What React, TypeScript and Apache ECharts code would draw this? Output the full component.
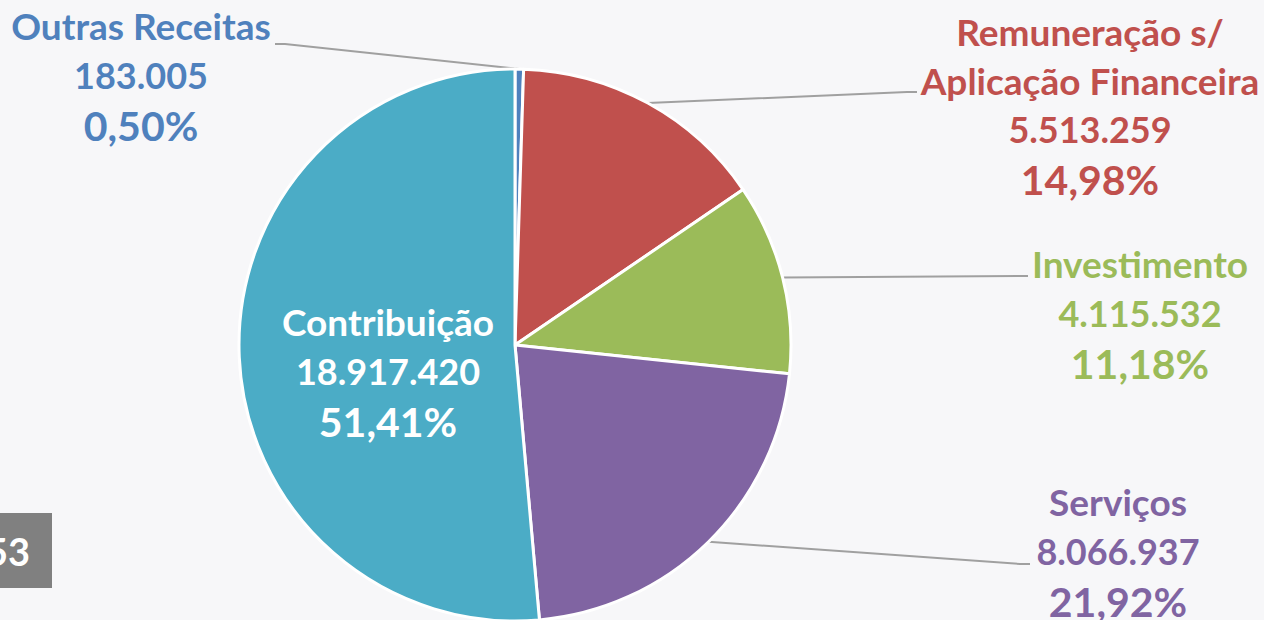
import React, { useEffect, useRef } from 'react';
import * as echarts from 'echarts';

const categories = ['Outras Receitas', 'Remuneração s/\nAplicação Financeira', 'Investimento', 'Serviços', 'Contribuição'];
const values = [183005, 5513259, 4115532, 8066937, 18917420];
const percents = ['0,50%', '14,98%', '11,18%', '21,92%', '51,41%'];
const colors = ['#4F81BD', '#C0504D', '#9BBB59', '#8064A2', '#4BACC6'];
const textColors = ['#4F81BD', '#C0504D', '#9BBB59', '#8064A2', '#FFFFFF'];
const labelCenters: number[][] = [[141, 76], [1090, 106], [1140, 314], [1118, 552], [388, 372]];
const lineEnds: (number[] | null)[] = [[275, 44], [917, 92], [1028, 276], [1030, 564], null];
const pageNumber = '53';

const FONT = 'Lato, "Open Sans", sans-serif';

function fmt(n: number): string {
  return String(n).replace(/\B(?=(\d{3})+(?!\d))/g, '.');
}

export default function App() {
  const ref = useRef<HTMLDivElement>(null);
  useEffect(() => {
    if (!ref.current) return;
    const chart = echarts.init(ref.current, null, { renderer: 'svg' });
    const data = categories.map((name, i) => {
      const inside = i === 4;
      return {
        name,
        value: values[i],
        itemStyle: { color: colors[i] },
        label: {
          position: inside ? 'inside' : 'outside',
          formatter: () =>
            name.split('\n').map((s) => `{n|${s}}`).join('\n') +
            `\n{v|${fmt(values[i])}}\n{p|${percents[i]}}`,
          rich: {
            n: { fontSize: 37, fontWeight: 'bold', color: textColors[i], lineHeight: 49, fontFamily: FONT },
            v: { fontSize: 36, fontWeight: 'bold', color: textColors[i], lineHeight: 49, fontFamily: FONT },
            p: { fontSize: 41, fontWeight: 'bold', color: textColors[i], lineHeight: 52, fontFamily: FONT },
          },
        },
        labelLine: { show: !inside },
      };
    });
    chart.setOption({
      animation: false,
      backgroundColor: '#F7F7F9',
      graphic: [
        { type: 'rect', shape: { x: 0, y: 513, width: 52, height: 75 }, style: { fill: '#808080' } },
        {
          type: 'text',
          x: 30,
          y: 551,
          style: {
            text: pageNumber,
            fill: '#FFFFFF',
            font: `bold 38px ${FONT}`,
            textAlign: 'right',
            textVerticalAlign: 'middle',
          },
        },
      ],
      series: [
        {
          type: 'pie',
          center: [515, 345],
          radius: 276,
          startAngle: 90,
          clockwise: true,
          avoidLabelOverlap: false,
          itemStyle: { borderColor: '#FFFFFF', borderWidth: 3 },
          label: { show: true },
          labelLine: { show: true, length: 20, length2: 20, lineStyle: { color: '#A0A0A0', width: 2 } },
          emphasis: { disabled: true },
          labelLayout: (params: any) => {
            const i = params.dataIndex;
            const [x, y] = labelCenters[i];
            const res: any = { x, y, align: 'center', verticalAlign: 'middle' };
            const end = lineEnds[i];
            if (end && params.labelLinePoints) {
              const p0 = params.labelLinePoints[0];
              const mid = [end[0] + (end[0] < p0[0] ? 10 : -10), end[1]];
              res.labelLinePoints = [p0, mid, end];
            }
            return res;
          },
          data,
        },
      ],
    });
    return () => chart.dispose();
  }, []);
  return <div ref={ref} style={{ position: 'absolute', left: 0, top: 0, width: 1264, height: 620 }} />;
}
